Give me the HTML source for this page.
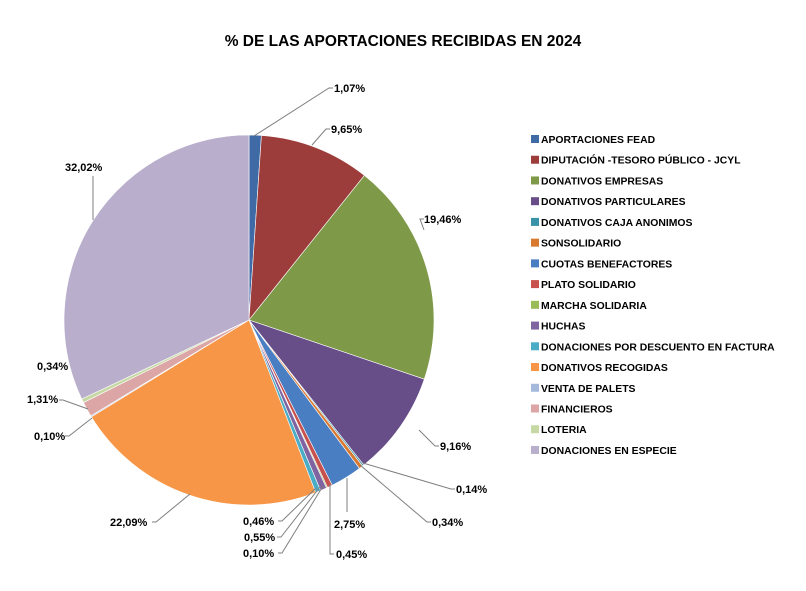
<!DOCTYPE html>
<html><head><meta charset="utf-8"><style>
body{margin:0;background:#fff;}
svg text{font-family:"Liberation Sans",Arial,sans-serif;font-weight:bold;}
</style></head><body>
<svg id="s" width="806" height="586" viewBox="0 0 806 586" xmlns="http://www.w3.org/2000/svg">
<rect width="806" height="586" fill="#fff"/>
<text x="403" y="46" text-anchor="middle" font-size="15.5" fill="#000">% DE LAS APORTACIONES RECIBIDAS EN 2024</text>
<g id="pie"></g>
<g fill="none" stroke="#7f7f7f" stroke-width="1">
<polyline points="254,136 329,88 333,88"/>
<polyline points="312,145 326,129 330,129"/>
<polyline points="424,230 420,219 424,219"/>
<polyline points="419,430 435,446 439,446"/>
<polyline points="363,463 451,489 455,489"/>
<polyline points="360,465 427,522 431,522"/>
<polyline points="347,478 347,512"/>
<polyline points="330,484 330,554 334,554"/>
<polyline points="323,486 282,553 278,553"/>
<polyline points="320,487 281,537 277,537"/>
<polyline points="316,488 282,521 278,521"/>
<polyline points="190,494 156,522 152,522"/>
<polyline points="92,418 69,436 65,436"/>
<polyline points="88,409 63,400 59,400"/>
<polyline points="93,220 93,176"/>
</g>
<g font-size="11" fill="#000">
<text x="334" y="92">1,07%</text>
<text x="331" y="133">9,65%</text>
<text x="424" y="223">19,46%</text>
<text x="440" y="450">9,16%</text>
<text x="456" y="493">0,14%</text>
<text x="432" y="526">0,34%</text>
<text x="334" y="528">2,75%</text>
<text x="336" y="558">0,45%</text>
<text x="243" y="557">0,10%</text>
<text x="244" y="541">0,55%</text>
<text x="243" y="525">0,46%</text>
<text x="110" y="526">22,09%</text>
<text x="34" y="440">0,10%</text>
<text x="27" y="403">1,31%</text>
<text x="37" y="370">0,34%</text>
<text x="65" y="171">32,02%</text>
</g>
<g id="leg" font-size="10.4" fill="#000"></g>
</svg>
<script>
var d=[["APORTACIONES FEAD",1.07,"#3f6aa6"],["DIPUTACIÓN -TESORO PÚBLICO - JCYL",9.65,"#9d3d3b"],["DONATIVOS EMPRESAS",19.46,"#7e9a48"],["DONATIVOS PARTICULARES",9.16,"#674e89"],["DONATIVOS CAJA ANONIMOS",0.14,"#3a92a8"],["SONSOLIDARIO",0.34,"#d9782f"],["CUOTAS BENEFACTORES",2.75,"#4a7ec3"],["PLATO SOLIDARIO",0.45,"#c8504d"],["MARCHA SOLIDARIA",0.10,"#9bbb59"],["HUCHAS",0.55,"#8064a2"],["DONACIONES POR DESCUENTO EN FACTURA",0.46,"#4bacc6"],["DONATIVOS RECOGIDAS",22.09,"#f79646"],["VENTA DE PALETS",0.10,"#a5b9dd"],["FINANCIEROS",1.31,"#dba6a5"],["LOTERIA",0.34,"#c6d9a5"],["DONACIONES EN ESPECIE",32.02,"#b9aecb"]];
var cx=249,cy=320,r=185,a=0,tot=99.99,pie=document.getElementById('pie'),leg=document.getElementById('leg'),ns="http://www.w3.org/2000/svg";
d.forEach(function(s,i){
 var a2=a+s[1]/tot*2*Math.PI;
 var x1=cx+r*Math.sin(a),y1=cy-r*Math.cos(a),x2=cx+r*Math.sin(a2),y2=cy-r*Math.cos(a2);
 var p=document.createElementNS(ns,'path');
 p.setAttribute('d','M'+cx+','+cy+' L'+x1+','+y1+' A'+r+','+r+' 0 '+((a2-a)>Math.PI?1:0)+' 1 '+x2+','+y2+' Z');
 p.setAttribute('fill',s[2]);p.setAttribute('stroke','#fff');p.setAttribute('stroke-width','0.6');
 pie.appendChild(p);a=a2;
 var y=139+i*20.73;
 var rc=document.createElementNS(ns,'rect');
 rc.setAttribute('x',531);rc.setAttribute('y',y-4);rc.setAttribute('width',8);rc.setAttribute('height',8);rc.setAttribute('fill',s[2]);
 leg.appendChild(rc);
 var t=document.createElementNS(ns,'text');
 t.setAttribute('x',541);t.setAttribute('y',y+4);t.textContent=s[0];leg.appendChild(t);
});
</script>
</body></html>
